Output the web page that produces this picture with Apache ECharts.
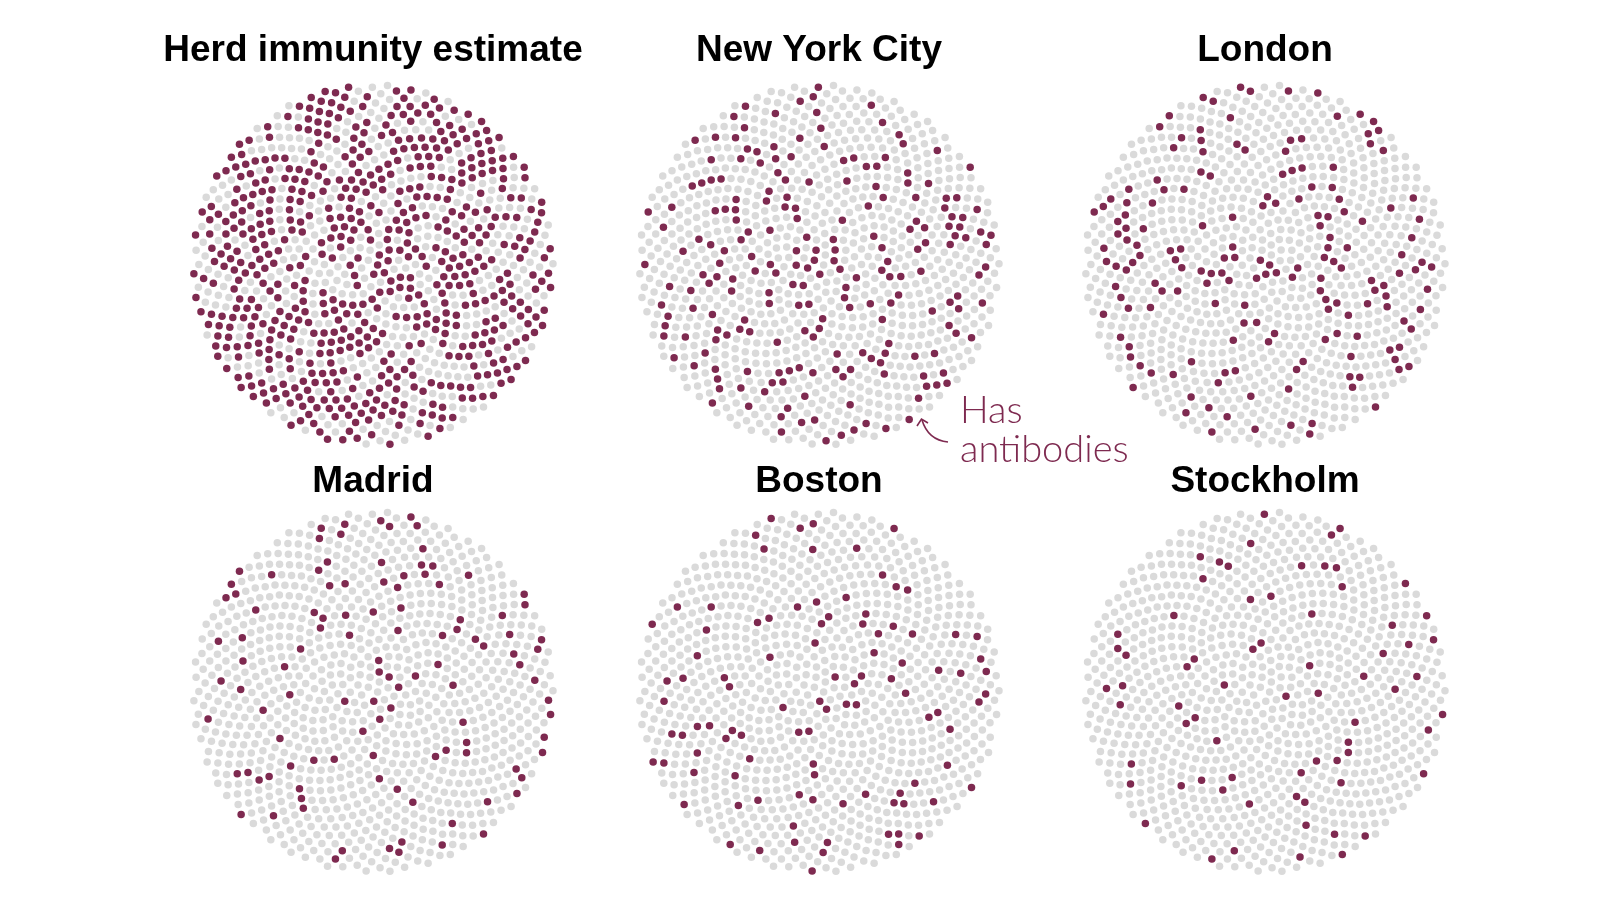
<!DOCTYPE html>
<html>
<head>
<meta charset="utf-8">
<style>
  html, body { margin: 0; padding: 0; background: #fff; }
  #chart { width: 1600px; height: 901px; }
</style>
<script src="https://cdn.jsdelivr.net/npm/echarts@6/dist/echarts.min.js"></script>
</head>
<body>
<div id="chart"></div>
<script>
// panels, left to right then top to bottom
const titles = ['Herd immunity estimate', 'New York City', 'London', 'Madrid', 'Boston', 'Stockholm']
// share of people with antibodies, percent
const sharePct = [60, 21, 17, 11, 10, 7]
// every circle shows the same number of people
const dotsPerCircle = 1000

const colorHas = '#7e2a50'
const colorNot = '#dadada'

const colCenters = [373, 819, 1265]
const rowCenters = [265, 692]
const rowTitleY = [51, 482]
const radius = 180

// sunflower layout inside a unit circle, then a little relaxing
const golden = Math.PI * (3 - Math.sqrt(5))
function packDots(n) {
  const pts = []
  for (let i = 0; i < n; i++) {
    const r = Math.sqrt((i + 0.5) / n)
    const a = i * golden
    pts.push([r * Math.cos(a), r * Math.sin(a)])
  }
  const d0 = Math.sqrt(Math.PI / n / 0.866)
  for (let it = 0; it < 25; it++) {
    const move = pts.map(() => [0, 0])
    for (let i = 0; i < n; i++) {
      for (let j = i + 1; j < n; j++) {
        const dx = pts[j][0] - pts[i][0]
        const dy = pts[j][1] - pts[i][1]
        const d = Math.sqrt(dx * dx + dy * dy)
        if (d < d0 && d > 1e-9) {
          const f = (d0 - d) / d * 0.25
          move[i][0] -= dx * f; move[i][1] -= dy * f
          move[j][0] += dx * f; move[j][1] += dy * f
        }
      }
    }
    pts.forEach((p, i) => {
      p[0] += move[i][0]; p[1] += move[i][1]
      const r = Math.sqrt(p[0] * p[0] + p[1] * p[1])
      if (r > 1) { p[0] /= r; p[1] /= r }
    })
  }
  return pts
}

// fixed scramble so the marked dots are spread over the circle
function scramble(i, seed) {
  let h = (i + 1) * 374761393 + seed * 668265263
  h = (h ^ (h >>> 13)) >>> 0
  h = Math.imul(h, 1274126177) >>> 0
  return (h ^ (h >>> 16)) >>> 0
}

const layout = packDots(dotsPerCircle)
const grids = []
const xAxes = []
const yAxes = []
const series = []
const graphics = []

titles.forEach((name, k) => {
  const cx = colCenters[k % 3]
  const cy = rowCenters[Math.floor(k / 3)]
  grids.push({ left: cx - radius, top: cy - radius, width: radius * 2, height: radius * 2 })
  xAxes.push({ gridIndex: k, type: 'value', min: -1, max: 1, show: false })
  yAxes.push({ gridIndex: k, type: 'value', min: -1, max: 1, show: false })

  const count = Math.round(sharePct[k] / 100 * dotsPerCircle)
  const order = layout.map((p, i) => i).sort((a, b) => scramble(a, k + 3) - scramble(b, k + 3))
  const marked = new Set(order.slice(0, count))
  const grey = []
  const red = []
  layout.forEach((p, i) => (marked.has(i) ? red : grey).push(p))

  series.push({
    type: 'scatter', xAxisIndex: k, yAxisIndex: k, data: grey,
    symbolSize: 7.5, itemStyle: { color: colorNot, opacity: 1 }, silent: true
  })
  series.push({
    type: 'scatter', xAxisIndex: k, yAxisIndex: k, data: red,
    symbolSize: 7.5, itemStyle: { color: colorHas, opacity: 1 }, silent: true
  })

  graphics.push({
    type: 'text', x: cx, y: rowTitleY[Math.floor(k / 3)],
    style: {
      text: name, fill: '#000', align: 'center', verticalAlign: 'middle',
      font: 'bold 37px "Liberation Sans", Arial, sans-serif'
    }
  })
})

// annotation next to New York City
graphics.push({
  type: 'text', x: 960, y: 411,
  style: { text: 'Has', fill: colorHas, align: 'left', verticalAlign: 'middle',
    font: '300 38px Lato, "Open Sans", sans-serif' }
})
graphics.push({
  type: 'text', x: 960, y: 450,
  style: { text: 'antibodies', fill: colorHas, align: 'left', verticalAlign: 'middle',
    font: '300 38px Lato, "Open Sans", sans-serif' }
})
graphics.push({
  type: 'bezierCurve',
  shape: { x1: 948, y1: 442, cpx1: 928, cpy1: 440, x2: 922, y2: 420 },
  style: { stroke: colorHas, lineWidth: 1.6, fill: null }
})
graphics.push({
  type: 'polyline',
  shape: { points: [[917, 426], [921.5, 419], [928, 423]] },
  style: { stroke: colorHas, lineWidth: 1.6, fill: null }
})

const chart = echarts.init(document.getElementById('chart'))
chart.setOption({
  animation: false,
  backgroundColor: '#fff',
  grid: grids,
  xAxis: xAxes,
  yAxis: yAxes,
  series: series,
  graphic: graphics
})
</script>
</body>
</html>
